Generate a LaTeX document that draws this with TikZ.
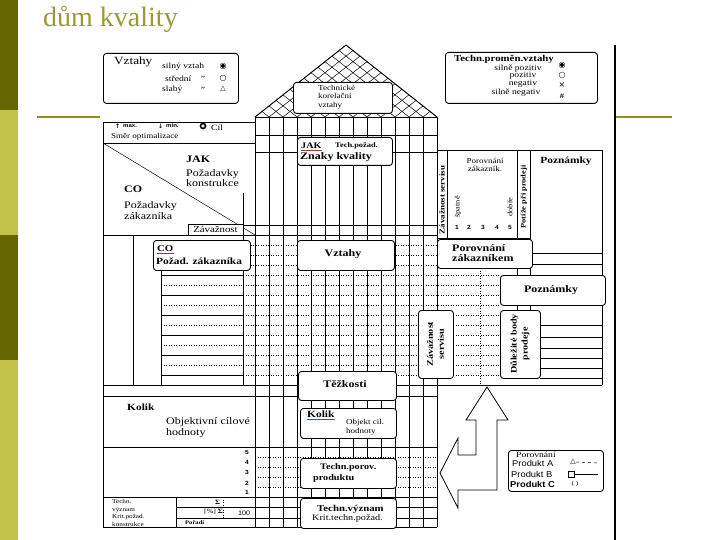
\documentclass[tikz,border=0pt]{standalone}
\usepackage{fontspec}
\setmainfont{Liberation Serif}[FakeStretch=1.2]
\newfontfamily\titlefont{Liberation Serif}
\newfontfamily\sansfont{Liberation Sans}[FakeStretch=1.1]
\newfontfamily\symfont{DejaVu Sans}
\usetikzlibrary{positioning}
\definecolor{barDark}{HTML}{666600}
\definecolor{barLight}{HTML}{C2C24A}
\definecolor{ruleOlive}{HTML}{8F8F1E}
\definecolor{titleOlive}{HTML}{9A9A30}
\definecolor{penRed}{HTML}{B03030}
\newcommand{\fsz}[2]{\fontsize{#1}{#2}\selectfont}

\tikzset{
  frame/.style={line width=0.9pt},
  gridline/.style={line width=0.5pt},
  dotline/.style={line width=0.5pt, dotted},
  rbox/.style={draw, line width=0.9pt, rounded corners=3pt, fill=white, inner sep=0pt, anchor=north west},
  sbox/.style={draw, line width=0.6pt, fill=white, inner sep=0pt, anchor=north west},
  lbl/.style={inner sep=0pt, anchor=west},
  clbl/.style={inner sep=0pt},
  vlbl/.style={inner sep=0pt, rotate=90},
}

\begin{document}
\begin{tikzpicture}[x=1pt,y=-1pt]
\useasboundingbox (0,0) rectangle (720,540);

% slide frame
\fill[barDark] (0,0) rectangle (18,110);
\fill[barLight] (0,110) rectangle (18,235);
\fill[barDark] (0,235) rectangle (18,360);
\fill[barLight] (0,360) rectangle (18,540);
\node[anchor=base west, inner sep=0pt, text=titleOlive, font=\titlefont\fsz{28}{30}] (title) at (43,27) {dům kvality};
\draw[ruleOlive, line width=2pt] (37,117) -- (100,117);
\draw[ruleOlive, line width=2pt] (616,117) -- (672,117);
\draw[line width=1.3pt] (615,45) -- (615,540);

% legend: relations
\node[rbox, minimum width=135, minimum height=50] (relkey) at (103,53) {};
\node[lbl, font=\fsz{11}{11}] (relkeyhead) at (114,62) {Vztahy};
\node[lbl, font=\fsz{8}{8}] (relstrong) at (162,67) {silný vztah};
\node[lbl, font=\fsz{8}{8}] (relmid) at (165,79) {střední};
\node[lbl, font=\fsz{8}{8}] (relweak) at (162,90) {slabý};
\node[clbl, font=\fsz{8}{8}] (dittoA) at (203,79) {"};
\node[clbl, font=\fsz{8}{8}] (dittoB) at (203,90) {"};
\node[clbl, font=\symfont\fsz{8}{8}] (symstrong) at (223,66) {◉};
\node[clbl, font=\symfont\fsz{8}{8}] (symmid) at (223,78) {○};
\node[clbl, font=\symfont\fsz{7}{7}] (symweak) at (223,89) {△};

% legend: correlations
\node[rbox, minimum width=152, minimum height=51] (corrkey) at (445,52) {};
\node[lbl, font=\bfseries\fsz{9}{9}] (corrkeyhead) at (454,59) {Techn.proměn.vztahy};
\node[clbl, font=\fsz{8}{8}] (corrpp) at (518,69) {silně pozitiv};
\node[clbl, font=\fsz{8}{8}] (corrp) at (523,76) {pozitiv};
\node[clbl, font=\fsz{8}{8}] (corrn) at (523,84) {negativ};
\node[clbl, font=\fsz{8}{8}] (corrnn) at (516,93) {silně negativ};
\node[clbl, font=\symfont\fsz{8}{8}] (sympp) at (562,65) {◉};
\node[clbl, font=\symfont\fsz{8}{8}] (symp) at (562,75) {○};
\node[clbl, font=\symfont\fsz{8}{8}] (symn) at (562,85) {×};
\node[clbl, font=\bfseries\fsz{7}{7}] (symnn) at (562,96) {\#};

% roof
\begin{scope}
  \clip (255,117) -- (346,45) -- (437,117) -- cycle;
  \foreach \k in {0,...,13} {
    \draw[gridline] (255+14*\k,117) -- ++(182,-144);
    \draw[gridline] (255+14*\k,117) -- ++(-182,-144);
  }
\end{scope}
\draw[frame] (255,117) -- (346,45) -- (437,117);
\draw[frame] (255,117) rectangle (437,135);
\foreach \k in {1,...,12} \draw[gridline] (255+14*\k,117) -- (255+14*\k,135);
\node[rbox, minimum width=99, minimum height=31] (corrbox) at (293,82) {};
\node[lbl, font=\fsz{7.5}{8.5}, align=left] (corrtext) at (318,97) {Technické\\korelační\\vztahy};

% left part of the house
\draw[frame] (103,122) rectangle (255,143);
\node[lbl, font=\symfont\bfseries\fsz{6}{6}] (uparrow) at (115,126) {↑};
\node[lbl, font=\sansfont\bfseries\fsz{5.5}{6}] (maxlbl) at (123,126) {max.};
\node[lbl, font=\symfont\bfseries\fsz{6}{6}] (downarrow) at (158,126) {↓};
\node[lbl, font=\sansfont\bfseries\fsz{5.5}{6}] (minlbl) at (166,126) {min.};
\node[circle, draw, line width=1.6pt, inner sep=0pt, minimum size=5] (goalmark) at (203,126) {};
\node[lbl, font=\fsz{8}{8}] (goallbl) at (211,128) {Cíl};
\node[lbl, font=\fsz{7.5}{8}] (optlbl) at (111,137) {Směr optimalizace};
\draw[gridline] (103,143) -- (255,235);
\node[lbl, font=\bfseries\fsz{10}{10}] (howlbl) at (186,159) {JAK};
\node[lbl, font=\fsz{10}{10}, align=left] (howtext) at (186,178) {Požadavky\\konstrukce};
\node[lbl, font=\bfseries\fsz{10}{10}] (whatlbl) at (124,189) {CO};
\node[lbl, font=\fsz{10}{11}, align=left] (whattext) at (124,210.5) {Požadavky\\zákazníka};
\draw[gridline] (243,193) -- (243,385);
\draw[frame] (103,122) -- (103,527);
\draw[frame] (103,235) -- (437,235);
\draw[gridline] (243,225) -- (437,225);
\node[sbox, minimum width=55, minimum height=11] (weightbox) at (188,224) {};
\node[clbl, font=\fsz{9}{9}] (weightlbl) at (215.5,229.5) {Závažnost};
\draw[gridline] (133,235) -- (133,385);
\draw[gridline] (161,262) -- (161,385);
\foreach \y in {275,295,...,375} \draw[gridline] (161,\y) -- (243,\y);
\foreach \y in {285,305,...,365} \draw[dotline] (161,\y) -- (243,\y);
\foreach \y in {245,255,...,375} \draw[dotline] (243,\y) -- (500,\y);
\draw[frame] (103,385) -- (437,385);
\draw[frame] (103,396) -- (437,396);
\draw[gridline] (103,447) -- (437,447);
\node[lbl, font=\bfseries\fsz{9.5}{10}] (kolikhead) at (127,407) {Kolik};
\node[lbl, font=\fsz{10}{11.5}, align=left] (koliktext) at (166,427.5) {Objektivní cílové\\hodnoty};
\foreach \n/\y in {5/452,4/462,3/472,2/483,1/492}
  \node[clbl, font=\sansfont\bfseries\fsz{6}{6}] (score\n) at (247,\y) {\n};
\foreach \y in {457,467,477,487} \draw[dotline] (255,\y) -- (437,\y);
\draw[frame] (103,497) -- (437,497);
\draw[frame] (103,527) -- (437,527);
\draw[gridline] (176,497) -- (176,527);
\draw[gridline] (176,507) -- (437,507);
\draw[gridline] (176,518) -- (437,518);
\draw[dotline] (223,497) -- (223,518);
\node[lbl, font=\fsz{6}{7.5}, align=left] (techimp) at (112,513) {Techn.\\význam\\Krit.požad.\\konstrukce};
\node[lbl, font=\bfseries\fsz{6.5}{7}] (sumlbl) at (215,502) {Σ};
\node[lbl, font=\fsz{6.5}{7}] (pctsum) at (204,512) {[\%] \textbf{Σ}};
\node[lbl, font=\sansfont\fsz{6.5}{7}] (hundred) at (238,513) {100};
\node[lbl, font=\bfseries\fsz{5.5}{6}] (rank) at (185,523) {Pořadí};

% matrix columns
\foreach \k in {1,...,12} \draw[gridline] (255+14*\k,135) -- (255+14*\k,527);
\draw[frame] (255,117) -- (255,527);
\draw[frame] (437,117) -- (437,527);
\draw[gridline] (255,152) -- (437,152);

% boxes in the middle
\node[rbox, minimum width=95, minimum height=28] (jakbox) at (297,137) {};
\node[lbl, font=\bfseries\fsz{8.5}{9}] (jaktag) at (301,146) {JAK};
\draw[penRed, line width=1pt] ([yshift=-1.5pt]jaktag.south west) -- ([yshift=-1.5pt]jaktag.south east);
\node[lbl, font=\bfseries\fsz{7}{7}] (techreq) at (335,146) {Tech.požad.};
\node[lbl, font=\bfseries\fsz{10}{10}] (qualtrait) at (300,157) {Znaky kvality};
\node[rbox, minimum width=97, minimum height=30] (cobox) at (153,240) {};
\node[lbl, font=\bfseries\fsz{9}{9}] (cotag) at (157,249) {CO};
\draw[penRed, line width=1pt] ([yshift=-1.5pt]cotag.south west) -- ([yshift=-1.5pt]cotag.south east);
\node[lbl, font=\bfseries\fsz{9.5}{10}] (cotext) at (156,261) {Požad. zákazníka};
\node[rbox, minimum width=97, minimum height=30] (relbox) at (297,240) {};
\node[clbl, font=\bfseries\fsz{10}{10}] (rellbl) at (343,254) {Vztahy};
\node[rbox, minimum width=98, minimum height=29] (diffbox) at (298,371) {};
\node[clbl, font=\bfseries\fsz{10}{10}] (difflbl) at (345,384) {Těžkosti};
\node[rbox, minimum width=96, minimum height=30] (kolikbox) at (300,408) {};
\node[lbl, font=\bfseries\fsz{9.5}{10}] (koliktag) at (307,414) {Kolik};
\draw[penRed, line width=1pt] ([yshift=-2pt]koliktag.south west) -- ([yshift=-2pt]koliktag.south east);
\node[lbl, font=\fsz{7.5}{9}, align=left] (kolikobj) at (346,427) {Objekt cil.\\hodnoty};
\node[rbox, minimum width=96, minimum height=30] (cmpbox) at (300,458) {};
\node[lbl, font=\bfseries\fsz{8.5}{9}] (cmpA) at (320,467) {Techn.porov.};
\node[lbl, font=\bfseries\fsz{8.5}{9}] (cmpB) at (313,478) {produktu};
\node[rbox, minimum width=96, minimum height=30] (impbox) at (300,498) {};
\node[lbl, font=\bfseries\fsz{9}{9}] (impA) at (317,509) {Techn.význam};
\node[lbl, font=\fsz{8.5}{9}] (impB) at (312,518) {Krit.techn.požad.};

% right part
\draw[frame] (437,150) -- (602,150) -- (602,385);
\draw[gridline] (447,150) -- (447,238);
\draw[gridline] (517,150) -- (517,310);
\draw[gridline] (530,150) -- (530,310);
\draw[gridline] (437,238) -- (530,238);
\draw[gridline] (530,253) -- (602,253);
\draw[gridline] (530,264) -- (602,264);
\draw[dotline] (480,268) -- (480,385);
\foreach \y in {325,337,348,358,368,378} \draw[gridline] (540,\y) -- (602,\y);
\draw[frame] (437,385) -- (602,385);
\node[vlbl, font=\bfseries\fsz{7.5}{8}] (servtop) at (442,200) {Závažnost servisu};
\node[clbl, font=\fsz{7.5}{8.5}, align=center] (custcmp) at (485,165) {Porovnání\\zákazník.};
\node[vlbl, font=\fsz{7}{7}] (badlbl) at (458,207) {špatně};
\node[vlbl, font=\fsz{7}{7}] (goodlbl) at (510,207) {dobře};
\foreach \n/\x in {1/457,2/469,3/483,4/497,5/510}
  \node[clbl, font=\sansfont\bfseries\fsz{6}{6}] (cmpscore\n) at (\x,227) {\n};
\node[vlbl, font=\bfseries\fsz{7}{7}] (salesissue) at (524,197) {Potíže při prodeji};
\node[clbl, font=\bfseries\fsz{9.5}{10}] (notesA) at (566,161) {Poznámky};
\node[rbox, minimum width=95, minimum height=29] (custbox) at (437,239) {};
\node[lbl, font=\bfseries\fsz{10}{10.5}, align=left] (custtext) at (452,253) {Porovnání\\zákazníkem};
\node[rbox, minimum width=105, minimum height=30] (notesbox) at (500,275) {};
\node[clbl, font=\bfseries\fsz{10}{10}] (notesB) at (551,290) {Poznámky};
\node[rbox, minimum width=35, minimum height=68] (servbox) at (418,310) {};
\node[vlbl, font=\bfseries\fsz{8.5}{11}, align=center] (servtext) at (435.5,344) {Závažnost\\servisu};
\node[rbox, minimum width=40, minimum height=68] (salesbox) at (500,310) {};
\node[vlbl, font=\bfseries\fsz{8.5}{11}, align=center] (salestext) at (520,344) {Důležité body\\prodeje};

% bent arrow
\draw[line width=0.8pt, fill=white] (487,387) -- (508,420) -- (497,420) -- (497,490) -- (458,490)
  -- (458,508) -- (440,473) -- (458,438) -- (458,455) -- (476,455) -- (476,420) -- (466,420) -- cycle;

% legend: products
\node[rbox, minimum width=95, minimum height=41] (prodkey) at (508,450) {};
\node[lbl, font=\fsz{8}{8}] (prodhead) at (516,455) {Porovnání};
\node[lbl, font=\sansfont\fsz{8.5}{9}] (prodA) at (512,463) {Produkt A};
\node[lbl, font=\sansfont\fsz{8.5}{9}] (prodB) at (511,474) {Produkt B};
\node[lbl, font=\sansfont\bfseries\fsz{8.5}{9}] (prodC) at (510,484) {Produkt C};
\node[clbl, font=\symfont\fsz{7}{7}] (markA) at (573,462) {△};
\node[draw, line width=0.5pt, inner sep=0pt, minimum size=6] (markB) at (571,474.5) {};
\node[clbl, font=\fsz{6}{6}] (markC) at (575,484) {( )};
\coordinate (endA) at (598,463);
\coordinate (endB) at (598,474.5);
\draw[gridline, dashed] (markA.east) -- (endA);
\draw[gridline] (markB.east) -- (endB);
\end{tikzpicture}
\end{document}
